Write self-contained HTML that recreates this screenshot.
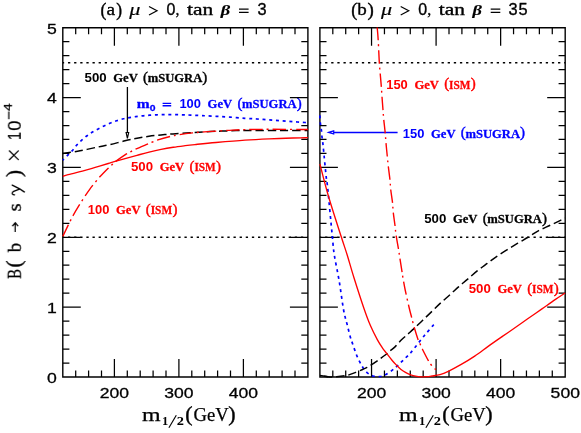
<!DOCTYPE html>
<html><head><meta charset="utf-8"><title>B(b to s gamma)</title>
<style>html,body{margin:0;padding:0;background:#fff}svg{display:block}.s{font-family:"Liberation Serif",serif}.n{font-family:"Liberation Sans",sans-serif}</style>
</head><body>
<svg width="581" height="433" viewBox="0 0 581 433">
<rect width="581" height="433" fill="#fff"/>
<g opacity="0.999">
<path d="M127.4 87V132.3" stroke="#000" stroke-width="1.3" fill="none"/>
<path d="M127.4 138.3L126.1 132.5H128.7Z" stroke="#000" stroke-width="1.15" fill="#fff" stroke-linejoin="miter"/>
<path d="M397.6 132.4H333.6" stroke="#00f" stroke-width="1.45" fill="none"/>
<path d="M328.6 132.4L333.7 130.9V133.9Z" stroke="#00f" stroke-width="1.2" fill="#fff" stroke-linejoin="miter"/>
<text class="n" x="84.55" y="81.95" font-size="12.7" font-weight="bold" fill="#000000" textLength="22.1" lengthAdjust="spacingAndGlyphs">500</text>
<text class="s" x="113.25" y="81.95" font-size="13.0" font-weight="bold" fill="#000000" stroke="#000000" stroke-width="0.3" textLength="24.5" lengthAdjust="spacingAndGlyphs">GeV</text>
<text class="s" x="143.05" y="81.55" font-size="15.2" fill="#000000" stroke="#000000" stroke-width="0.45" textLength="5" lengthAdjust="spacingAndGlyphs">(</text>
<text class="s" x="147.65" y="81.95" font-size="13.0" font-weight="bold" fill="#000000" stroke="#000000" stroke-width="0.3" textLength="54.6" lengthAdjust="spacingAndGlyphs">mSUGRA</text>
<text class="s" x="202.35" y="81.55" font-size="15.2" fill="#000000" stroke="#000000" stroke-width="0.45" textLength="5" lengthAdjust="spacingAndGlyphs">)</text>
<text class="n" x="179.4" y="108.4" font-size="12.7" font-weight="bold" fill="#0000ff" textLength="21.6" lengthAdjust="spacingAndGlyphs">100</text>
<text class="s" x="207.6" y="108.4" font-size="13.0" font-weight="bold" fill="#0000ff" stroke="#0000ff" stroke-width="0.3" textLength="24.5" lengthAdjust="spacingAndGlyphs">GeV</text>
<text class="s" x="237.4" y="108" font-size="15.2" fill="#0000ff" stroke="#0000ff" stroke-width="0.45" textLength="5" lengthAdjust="spacingAndGlyphs">(</text>
<text class="s" x="242" y="108.4" font-size="13.0" font-weight="bold" fill="#0000ff" stroke="#0000ff" stroke-width="0.3" textLength="54.6" lengthAdjust="spacingAndGlyphs">mSUGRA</text>
<text class="s" x="296.7" y="108" font-size="15.2" fill="#0000ff" stroke="#0000ff" stroke-width="0.45" textLength="5" lengthAdjust="spacingAndGlyphs">)</text>
<text class="s" x="136.8" y="108.4" font-size="13.0" font-weight="bold" fill="#0000ff" stroke="#0000ff" stroke-width="0.3" textLength="12.9" lengthAdjust="spacingAndGlyphs">m</text>
<text class="n" x="149.8" y="111.1" font-size="9.5" font-weight="bold" fill="#0000ff" stroke="#0000ff" stroke-width="0.3" textLength="5.8" lengthAdjust="spacingAndGlyphs">0</text>
<path d="M162.6 103.3H171.2M162.6 105.75H171.2" stroke="#00f" stroke-width="1.3" fill="none"/>
<text class="n" x="131" y="171.4" font-size="12.7" font-weight="bold" fill="#ff0000" textLength="22.1" lengthAdjust="spacingAndGlyphs">500</text>
<text class="s" x="159.7" y="171.4" font-size="13.0" font-weight="bold" fill="#ff0000" stroke="#ff0000" stroke-width="0.3" textLength="24.5" lengthAdjust="spacingAndGlyphs">GeV</text>
<text class="s" x="189.5" y="171" font-size="15.2" fill="#ff0000" stroke="#ff0000" stroke-width="0.45" textLength="5" lengthAdjust="spacingAndGlyphs">(</text>
<text class="s" x="194.4" y="171.4" font-size="13.0" font-weight="bold" fill="#ff0000" stroke="#ff0000" stroke-width="0.3" textLength="21.4" lengthAdjust="spacingAndGlyphs">ISM</text>
<text class="s" x="216.1" y="171" font-size="15.2" fill="#ff0000" stroke="#ff0000" stroke-width="0.45" textLength="5" lengthAdjust="spacingAndGlyphs">)</text>
<text class="n" x="87.8" y="214.3" font-size="12.7" font-weight="bold" fill="#ff0000" textLength="21.6" lengthAdjust="spacingAndGlyphs">100</text>
<text class="s" x="116" y="214.3" font-size="13.0" font-weight="bold" fill="#ff0000" stroke="#ff0000" stroke-width="0.3" textLength="24.5" lengthAdjust="spacingAndGlyphs">GeV</text>
<text class="s" x="145.8" y="213.9" font-size="15.2" fill="#ff0000" stroke="#ff0000" stroke-width="0.45" textLength="5" lengthAdjust="spacingAndGlyphs">(</text>
<text class="s" x="150.7" y="214.3" font-size="13.0" font-weight="bold" fill="#ff0000" stroke="#ff0000" stroke-width="0.3" textLength="21.4" lengthAdjust="spacingAndGlyphs">ISM</text>
<text class="s" x="172.4" y="213.9" font-size="15.2" fill="#ff0000" stroke="#ff0000" stroke-width="0.45" textLength="5" lengthAdjust="spacingAndGlyphs">)</text>
<text class="n" x="386.2" y="88.8" font-size="12.7" font-weight="bold" fill="#ff0000" textLength="21.6" lengthAdjust="spacingAndGlyphs">150</text>
<text class="s" x="414.4" y="88.8" font-size="13.0" font-weight="bold" fill="#ff0000" stroke="#ff0000" stroke-width="0.3" textLength="24.5" lengthAdjust="spacingAndGlyphs">GeV</text>
<text class="s" x="444.2" y="88.4" font-size="15.2" fill="#ff0000" stroke="#ff0000" stroke-width="0.45" textLength="5" lengthAdjust="spacingAndGlyphs">(</text>
<text class="s" x="449.1" y="88.8" font-size="13.0" font-weight="bold" fill="#ff0000" stroke="#ff0000" stroke-width="0.3" textLength="21.4" lengthAdjust="spacingAndGlyphs">ISM</text>
<text class="s" x="470.8" y="88.4" font-size="15.2" fill="#ff0000" stroke="#ff0000" stroke-width="0.45" textLength="5" lengthAdjust="spacingAndGlyphs">)</text>
<text class="n" x="402.8" y="137.7" font-size="12.7" font-weight="bold" fill="#0000ff" textLength="21.6" lengthAdjust="spacingAndGlyphs">150</text>
<text class="s" x="431" y="137.7" font-size="13.0" font-weight="bold" fill="#0000ff" stroke="#0000ff" stroke-width="0.3" textLength="24.5" lengthAdjust="spacingAndGlyphs">GeV</text>
<text class="s" x="460.8" y="137.3" font-size="15.2" fill="#0000ff" stroke="#0000ff" stroke-width="0.45" textLength="5" lengthAdjust="spacingAndGlyphs">(</text>
<text class="s" x="465.4" y="137.7" font-size="13.0" font-weight="bold" fill="#0000ff" stroke="#0000ff" stroke-width="0.3" textLength="54.6" lengthAdjust="spacingAndGlyphs">mSUGRA</text>
<text class="s" x="520.1" y="137.3" font-size="15.2" fill="#0000ff" stroke="#0000ff" stroke-width="0.45" textLength="5" lengthAdjust="spacingAndGlyphs">)</text>
<text class="n" x="424.2" y="223.2" font-size="12.7" font-weight="bold" fill="#000000" textLength="22.1" lengthAdjust="spacingAndGlyphs">500</text>
<text class="s" x="452.9" y="223.2" font-size="13.0" font-weight="bold" fill="#000000" stroke="#000000" stroke-width="0.3" textLength="24.5" lengthAdjust="spacingAndGlyphs">GeV</text>
<text class="s" x="482.7" y="222.8" font-size="15.2" fill="#000000" stroke="#000000" stroke-width="0.45" textLength="5" lengthAdjust="spacingAndGlyphs">(</text>
<text class="s" x="487.3" y="223.2" font-size="13.0" font-weight="bold" fill="#000000" stroke="#000000" stroke-width="0.3" textLength="54.6" lengthAdjust="spacingAndGlyphs">mSUGRA</text>
<text class="s" x="542" y="222.8" font-size="15.2" fill="#000000" stroke="#000000" stroke-width="0.45" textLength="5" lengthAdjust="spacingAndGlyphs">)</text>
<text class="n" x="468.7" y="292.9" font-size="12.7" font-weight="bold" fill="#ff0000" textLength="22.1" lengthAdjust="spacingAndGlyphs">500</text>
<text class="s" x="497.4" y="292.9" font-size="13.0" font-weight="bold" fill="#ff0000" stroke="#ff0000" stroke-width="0.3" textLength="24.5" lengthAdjust="spacingAndGlyphs">GeV</text>
<text class="s" x="527.2" y="292.5" font-size="15.2" fill="#ff0000" stroke="#ff0000" stroke-width="0.45" textLength="5" lengthAdjust="spacingAndGlyphs">(</text>
<text class="s" x="532.1" y="292.9" font-size="13.0" font-weight="bold" fill="#ff0000" stroke="#ff0000" stroke-width="0.3" textLength="21.4" lengthAdjust="spacingAndGlyphs">ISM</text>
<text class="s" x="553.8" y="292.5" font-size="15.2" fill="#ff0000" stroke="#ff0000" stroke-width="0.45" textLength="5" lengthAdjust="spacingAndGlyphs">)</text>
<path d="M62.8 27.7H307.9V377H62.8Z" fill="none" stroke="#000" stroke-width="1.4" stroke-linejoin="miter"/>
<path d="M75.7 377v-6.6M75.7 27.7v6.6M88.6 377v-6.6M88.6 27.7v6.6M101.5 377v-6.6M101.5 27.7v6.6M114.4 377v-18M114.4 27.7v18M127.3 377v-6.6M127.3 27.7v6.6M140.2 377v-6.6M140.2 27.7v6.6M153.1 377v-6.6M153.1 27.7v6.6M166 377v-6.6M166 27.7v6.6M178.9 377v-18M178.9 27.7v18M191.8 377v-6.6M191.8 27.7v6.6M204.7 377v-6.6M204.7 27.7v6.6M217.6 377v-6.6M217.6 27.7v6.6M230.5 377v-6.6M230.5 27.7v6.6M243.4 377v-18M243.4 27.7v18M256.3 377v-6.6M256.3 27.7v6.6M269.2 377v-6.6M269.2 27.7v6.6M282.1 377v-6.6M282.1 27.7v6.6M295 377v-6.6M295 27.7v6.6M62.8 363.03h6.6M307.9 363.03h-6.6M62.8 349.06h6.6M307.9 349.06h-6.6M62.8 335.08h6.6M307.9 335.08h-6.6M62.8 321.11h6.6M307.9 321.11h-6.6M62.8 307.14h18M307.9 307.14h-18M62.8 293.17h6.6M307.9 293.17h-6.6M62.8 279.2h6.6M307.9 279.2h-6.6M62.8 265.22h6.6M307.9 265.22h-6.6M62.8 251.25h6.6M307.9 251.25h-6.6M62.8 237.28h18M307.9 237.28h-18M62.8 223.31h6.6M307.9 223.31h-6.6M62.8 209.34h6.6M307.9 209.34h-6.6M62.8 195.36h6.6M307.9 195.36h-6.6M62.8 181.39h6.6M307.9 181.39h-6.6M62.8 167.42h18M307.9 167.42h-18M62.8 153.45h6.6M307.9 153.45h-6.6M62.8 139.48h6.6M307.9 139.48h-6.6M62.8 125.5h6.6M307.9 125.5h-6.6M62.8 111.53h6.6M307.9 111.53h-6.6M62.8 97.56h18M307.9 97.56h-18M62.8 83.59h6.6M307.9 83.59h-6.6M62.8 69.62h6.6M307.9 69.62h-6.6M62.8 55.64h6.6M307.9 55.64h-6.6M62.8 41.67h6.6M307.9 41.67h-6.6" fill="none" stroke="#000" stroke-width="1.25" stroke-linecap="butt"/>
<path d="M62.8 237.28H307.9" stroke="#000" stroke-width="1.5" stroke-dasharray="2.3 3.83" stroke-dashoffset="0.95" fill="none"/>
<path d="M62.8 62.63H307.9" stroke="#000" stroke-width="1.5" stroke-dasharray="2.3 3.83" stroke-dashoffset="0.95" fill="none"/>
<path d="M319.9 27.7H565.19V377H319.9Z" fill="none" stroke="#000" stroke-width="1.4" stroke-linejoin="miter"/>
<path d="M332.81 377v-6.6M332.81 27.7v6.6M345.72 377v-6.6M345.72 27.7v6.6M358.63 377v-6.6M358.63 27.7v6.6M371.54 377v-18M371.54 27.7v18M384.45 377v-6.6M384.45 27.7v6.6M397.36 377v-6.6M397.36 27.7v6.6M410.27 377v-6.6M410.27 27.7v6.6M423.18 377v-6.6M423.18 27.7v6.6M436.09 377v-18M436.09 27.7v18M449 377v-6.6M449 27.7v6.6M461.91 377v-6.6M461.91 27.7v6.6M474.82 377v-6.6M474.82 27.7v6.6M487.73 377v-6.6M487.73 27.7v6.6M500.64 377v-18M500.64 27.7v18M513.55 377v-6.6M513.55 27.7v6.6M526.46 377v-6.6M526.46 27.7v6.6M539.37 377v-6.6M539.37 27.7v6.6M552.28 377v-6.6M552.28 27.7v6.6M319.9 363.03h6.6M565.19 363.03h-6.6M319.9 349.06h6.6M565.19 349.06h-6.6M319.9 335.08h6.6M565.19 335.08h-6.6M319.9 321.11h6.6M565.19 321.11h-6.6M319.9 307.14h18M565.19 307.14h-18M319.9 293.17h6.6M565.19 293.17h-6.6M319.9 279.2h6.6M565.19 279.2h-6.6M319.9 265.22h6.6M565.19 265.22h-6.6M319.9 251.25h6.6M565.19 251.25h-6.6M319.9 237.28h18M565.19 237.28h-18M319.9 223.31h6.6M565.19 223.31h-6.6M319.9 209.34h6.6M565.19 209.34h-6.6M319.9 195.36h6.6M565.19 195.36h-6.6M319.9 181.39h6.6M565.19 181.39h-6.6M319.9 167.42h18M565.19 167.42h-18M319.9 153.45h6.6M565.19 153.45h-6.6M319.9 139.48h6.6M565.19 139.48h-6.6M319.9 125.5h6.6M565.19 125.5h-6.6M319.9 111.53h6.6M565.19 111.53h-6.6M319.9 97.56h18M565.19 97.56h-18M319.9 83.59h6.6M565.19 83.59h-6.6M319.9 69.62h6.6M565.19 69.62h-6.6M319.9 55.64h6.6M565.19 55.64h-6.6M319.9 41.67h6.6M565.19 41.67h-6.6" fill="none" stroke="#000" stroke-width="1.25" stroke-linecap="butt"/>
<path d="M319.9 237.28H565.19" stroke="#000" stroke-width="1.5" stroke-dasharray="2.3 3.83" stroke-dashoffset="0.95" fill="none"/>
<path d="M319.9 62.63H565.19" stroke="#000" stroke-width="1.5" stroke-dasharray="2.3 3.83" stroke-dashoffset="0.95" fill="none"/>
<g stroke-linecap="butt" stroke-linejoin="round">
<path d="M62.8 160.2C63.63 159.35 66.15 156.77 67.8 155.1C69.45 153.43 71.18 151.9 72.7 150.2C74.22 148.5 75.4 146.57 76.9 144.9C78.4 143.23 80 141.73 81.7 140.2C83.4 138.67 85.3 137.07 87.1 135.7C88.9 134.33 90.58 133.17 92.5 132C94.42 130.83 96.58 129.75 98.6 128.7C100.62 127.65 102.6 126.65 104.6 125.7C106.6 124.75 108.6 123.82 110.6 123C112.6 122.18 114.48 121.5 116.6 120.8C118.72 120.1 121.18 119.33 123.3 118.8C125.42 118.27 127.22 117.97 129.3 117.6C131.38 117.23 133.5 116.9 135.8 116.6C138.1 116.3 140.78 116.03 143.1 115.8C145.42 115.57 147.4 115.37 149.7 115.2C152 115.03 154.58 114.9 156.9 114.8C159.22 114.7 161.38 114.63 163.6 114.6C165.82 114.57 167.9 114.58 170.2 114.6C172.5 114.62 175.1 114.66 177.4 114.7C179.7 114.74 181.78 114.78 184 114.85C186.22 114.92 187.7 114.97 190.7 115.1C193.7 115.22 197.78 115.4 202 115.6C206.22 115.8 211.33 116.05 216 116.3C220.67 116.55 225.17 116.77 230 117.1C234.83 117.43 240.5 117.98 245 118.3C249.5 118.62 252.98 118.73 257 119C261.02 119.27 265.08 119.6 269.1 119.9C273.12 120.2 277.08 120.5 281.1 120.8C285.12 121.1 289.18 121.42 293.2 121.7C297.22 121.98 302.75 122.33 305.2 122.5C307.65 122.67 307.45 122.67 307.9 122.7" fill="none" stroke="#0000ff" stroke-width="1.7" stroke-dasharray="3 3.735" stroke-dashoffset="1.15"/>
<path d="M62.8 153.5C65.67 153.05 74.13 151.88 80 150.8C85.87 149.72 93 148.03 98 147C103 145.97 105.5 145.63 110 144.6C114.5 143.57 120.5 141.85 125 140.8C129.5 139.75 133 139.05 137 138.3C141 137.55 145 136.87 149 136.3C153 135.73 157 135.3 161 134.9C165 134.5 168.17 134.25 173 133.9C177.83 133.55 183.83 133.18 190 132.8C196.17 132.42 202.33 131.97 210 131.6C217.67 131.23 229.33 130.78 236 130.6C242.67 130.42 242.67 130.5 250 130.5C257.33 130.5 270.35 130.6 280 130.6C289.65 130.6 303.25 130.52 307.9 130.5" fill="none" stroke="#000000" stroke-width="1.5" stroke-dasharray="8.3 3.88" stroke-dashoffset="0.15"/>
<path d="M62.8 176.3C63.53 176.07 63.65 175.83 67.2 174.9C70.75 173.97 79.28 172 84.1 170.7C88.92 169.4 92.08 168.3 96.1 167.1C100.12 165.9 105.18 164.4 108.2 163.5C111.22 162.6 111.4 162.52 114.2 161.7C117 160.88 121.2 159.67 125 158.6C128.8 157.53 132.98 156.38 137 155.3C141.02 154.22 145.08 153.08 149.1 152.1C153.12 151.12 157.08 150.21 161.1 149.4C165.12 148.59 169.18 147.88 173.2 147.25C177.22 146.62 181.57 146.1 185.2 145.65C188.83 145.2 189.87 145.08 195 144.55C200.13 144.03 207.67 143.24 216 142.5C224.33 141.76 236.15 140.72 245 140.1C253.85 139.48 261.07 139.15 269.1 138.8C277.13 138.45 286.73 138.18 293.2 138C299.67 137.82 305.45 137.75 307.9 137.7" fill="none" stroke="#ff0000" stroke-width="1.35"/>
<path d="M62.8 236.4C64.38 233.17 69.27 222.68 72.3 217C75.33 211.32 78.1 206.92 81 202.3C83.9 197.68 86.82 193.25 89.7 189.3C92.58 185.35 96.32 181 98.3 178.6C100.28 176.2 99.95 176.62 101.6 174.9C103.25 173.18 106.5 169.97 108.2 168.3C109.9 166.63 110.7 165.95 111.8 164.9C112.9 163.85 112.6 163.67 114.8 162C117 160.33 122.4 156.58 125 154.9C127.6 153.22 128.7 152.83 130.4 151.9C132.1 150.97 132.18 150.67 135.2 149.3C138.22 147.93 145.62 144.92 148.5 143.7C151.38 142.48 151.1 142.58 152.5 142C153.9 141.42 153.95 141.12 156.9 140.2C159.85 139.28 166.48 137.42 170.2 136.5C173.92 135.58 175.48 135.3 179.2 134.7C182.92 134.1 188.35 133.37 192.5 132.9C196.65 132.43 198.15 132.32 204.1 131.9C210.05 131.48 221.38 130.78 228.2 130.4C235.02 130.02 238.03 129.78 245 129.6C251.97 129.42 259.52 129.32 270 129.3C280.48 129.28 301.58 129.47 307.9 129.5" fill="none" stroke="#ff0000" stroke-width="1.4" stroke-dasharray="13.4 3.9 2 4" stroke-dashoffset="0.5"/>
<path d="M319.85 115.4C319.94 116.73 320.14 120.95 320.4 123.4C320.66 125.85 321.13 127.83 321.4 130.1C321.67 132.37 321.75 134.73 322 137C322.25 139.27 322.65 141.58 322.9 143.7C323.15 145.82 322.93 144.02 323.5 149.7C324.07 155.38 325.6 171.4 326.3 177.8C327 184.2 326.7 178.35 327.7 188.1C328.7 197.85 331.2 225.15 332.3 236.3C333.4 247.45 333.17 247.63 334.3 255C335.43 262.37 337.55 271.33 339.1 280.5C340.65 289.67 342.28 302.77 343.6 310C344.92 317.23 345.88 319.4 347 323.9C348.12 328.4 349.43 333.88 350.3 337C351.17 340.12 351.48 340.5 352.2 342.6C352.92 344.7 353.78 347.32 354.6 349.6C355.42 351.88 356.22 354.2 357.1 356.3C357.98 358.4 358.92 360.3 359.9 362.2C360.88 364.1 361.77 365.93 363 367.7C364.23 369.47 365.65 371.42 367.3 372.8C368.95 374.18 370.83 375.38 372.9 376C374.97 376.62 377.65 376.68 379.7 376.5C381.75 376.32 383.15 375.92 385.2 374.9C387.25 373.88 390.05 371.85 392 370.4C393.95 368.95 395.28 367.65 396.9 366.2C398.52 364.75 400.08 363.25 401.7 361.7C403.32 360.15 405.03 358.47 406.6 356.9C408.17 355.33 408.3 355.67 411.1 352.3C413.9 348.93 420.55 340.23 423.4 336.7C426.25 333.17 426.65 332.9 428.2 331.1C429.75 329.3 431.75 327 432.7 325.9C433.65 324.8 433.7 324.73 433.9 324.5" fill="none" stroke="#0000ff" stroke-width="1.7" stroke-dasharray="3 3.735"/>
<path d="M320 375.6C321.28 375.78 325.7 376.48 327.7 376.7C329.7 376.92 330.5 376.95 332 376.95C333.5 376.95 334.53 376.89 336.7 376.7C338.87 376.51 343.1 376.05 345 375.8C346.9 375.55 346.3 375.77 348.1 375.2C349.9 374.63 353.38 373.35 355.8 372.4C358.22 371.45 360.72 370.33 362.6 369.5C364.48 368.67 365.6 368.2 367.1 367.4C368.6 366.6 369.92 365.8 371.6 364.7C373.28 363.6 375.7 361.85 377.2 360.8C378.7 359.75 378.93 359.62 380.6 358.4C382.27 357.18 385.58 354.77 387.2 353.5C388.82 352.23 389 351.9 390.3 350.8C391.6 349.7 393.13 348.73 395 346.9C396.87 345.07 399.32 341.97 401.5 339.8C403.68 337.63 405.95 335.83 408.1 333.9C410.25 331.97 411.92 330.52 414.4 328.2C416.88 325.88 420.07 322.82 423 320C425.93 317.18 429.05 314.15 432 311.3C434.95 308.45 437.68 305.68 440.7 302.9C443.72 300.12 447.08 297.32 450.1 294.6C453.12 291.88 455.92 289.13 458.8 286.6C461.68 284.07 464.28 282.05 467.4 279.4C470.52 276.75 474.2 273.37 477.5 270.7C480.8 268.03 483.97 265.8 487.2 263.4C490.43 261 493.53 258.6 496.9 256.3C500.27 254 503.92 251.78 507.4 249.6C510.88 247.42 514.28 245.3 517.8 243.2C521.32 241.1 525.08 239.07 528.5 237C531.92 234.93 534.65 232.77 538.3 230.8C541.95 228.83 546.62 226.98 550.4 225.2C554.18 223.42 558.55 221.25 561 220.1C563.45 218.95 564.42 218.6 565.1 218.3" fill="none" stroke="#000000" stroke-width="1.5" stroke-dasharray="8.3 3.95" stroke-dashoffset="8.22"/>
<path d="M320 375.4L328 376.8" stroke="#000" stroke-width="1.4" fill="none"/>
<path d="M319.9 164C321.3 169.28 324.77 183.65 328.3 195.7C331.83 207.75 337.95 226.42 341.1 236.3C344.25 246.18 345.07 248.13 347.2 255C349.33 261.87 351.13 268.67 353.9 277.5C356.67 286.33 361.05 299.98 363.8 308C366.55 316.02 368.15 320.33 370.4 325.6C372.65 330.87 375.25 335.82 377.3 339.6C379.35 343.38 381.17 346.03 382.7 348.3C384.23 350.57 384.95 351.22 386.5 353.2C388.05 355.18 390.38 358.25 392 360.2C393.62 362.15 394.7 363.35 396.2 364.9C397.7 366.45 399.38 368.2 401 369.5C402.62 370.8 404.28 371.8 405.9 372.7C407.52 373.6 409.08 374.32 410.7 374.9C412.32 375.48 413.87 375.88 415.6 376.2C417.33 376.52 419.25 376.72 421.1 376.8C422.95 376.88 424.88 376.83 426.7 376.7C428.52 376.57 429.78 376.35 432 376C434.22 375.65 437.28 375.38 440 374.6C442.72 373.82 444.83 372.95 448.3 371.3C451.77 369.65 456.4 367.23 460.8 364.7C465.2 362.17 470.08 359.2 474.7 356.1C479.32 353 483.88 349.38 488.5 346.1C493.12 342.82 498.17 339.33 502.4 336.4C506.63 333.47 509.68 331.43 513.9 328.5C518.12 325.57 523.08 322.03 527.7 318.8C532.32 315.57 536.97 312.33 541.6 309.1C546.23 305.87 551.58 302.08 555.5 299.4C559.42 296.72 563.5 294.07 565.1 293" fill="none" stroke="#ff0000" stroke-width="1.35"/>
<path d="M377.2 27.5C377.37 29.58 377.85 34.17 378.2 40C378.55 45.83 378.97 56.92 379.3 62.5C379.63 68.08 379.87 69.52 380.2 73.5C380.53 77.48 381 82.52 381.3 86.4C381.6 90.28 381.72 92.87 382 96.8C382.28 100.73 382.72 106.3 383 110C383.28 113.7 383.33 115.18 383.7 119C384.07 122.82 384.82 128.88 385.2 132.9C385.58 136.92 385.65 139.17 386 143.1C386.35 147.03 386.92 152.63 387.3 156.5C387.68 160.37 387.85 162.35 388.3 166.3C388.75 170.25 389.6 176.35 390 180.2C390.4 184.05 390.28 185.7 390.7 189.4C391.12 193.1 392.08 198.65 392.5 202.4C392.92 206.15 392.78 208.05 393.2 211.9C393.62 215.75 394.52 221.6 395 225.5C395.48 229.4 395.52 231.35 396.1 235.3C396.68 239.25 397.87 245.35 398.5 249.2C399.13 253.05 399.32 254.65 399.9 258.4C400.48 262.15 401.53 268.7 402 271.7C402.47 274.7 402.17 273.35 402.7 276.4C403.23 279.45 404.13 284.82 405.2 290C406.27 295.18 408.03 302.95 409.1 307.5C410.17 312.05 410.75 314 411.6 317.3C412.45 320.6 413.1 323.52 414.2 327.3C415.3 331.08 417.18 337.13 418.2 340C419.22 342.87 419.62 343 420.3 344.5C420.98 346 420.98 346.35 422.3 349C423.62 351.65 426.73 357.77 428.2 360.4C429.67 363.03 429.98 363.4 431.1 364.8C432.22 366.2 434.12 367.97 434.9 368.8C435.68 369.63 435.65 369.63 435.8 369.8" fill="none" stroke="#ff0000" stroke-width="1.4" stroke-dasharray="13.4 3.9 2 4" stroke-dashoffset="0.5"/>
</g>
<text class="n" x="56.9" y="382.8" font-size="15.5" stroke="#000" stroke-width="0.3" text-anchor="end" textLength="9.8" lengthAdjust="spacingAndGlyphs">0</text>
<text class="n" x="56.9" y="312.94" font-size="15.5" stroke="#000" stroke-width="0.3" text-anchor="end" textLength="9.8" lengthAdjust="spacingAndGlyphs">1</text>
<text class="n" x="56.9" y="243.08" font-size="15.5" stroke="#000" stroke-width="0.3" text-anchor="end" textLength="9.8" lengthAdjust="spacingAndGlyphs">2</text>
<text class="n" x="56.9" y="173.22" font-size="15.5" stroke="#000" stroke-width="0.3" text-anchor="end" textLength="9.8" lengthAdjust="spacingAndGlyphs">3</text>
<text class="n" x="56.9" y="103.36" font-size="15.5" stroke="#000" stroke-width="0.3" text-anchor="end" textLength="9.8" lengthAdjust="spacingAndGlyphs">4</text>
<text class="n" x="56.9" y="33.5" font-size="15.5" stroke="#000" stroke-width="0.3" text-anchor="end" textLength="9.8" lengthAdjust="spacingAndGlyphs">5</text>
<text class="n" x="114.5" y="397.7" font-size="15.5" stroke="#000" stroke-width="0.3" text-anchor="middle" textLength="29.3" lengthAdjust="spacingAndGlyphs">200</text>
<text class="n" x="179" y="397.7" font-size="15.5" stroke="#000" stroke-width="0.3" text-anchor="middle" textLength="29.3" lengthAdjust="spacingAndGlyphs">300</text>
<text class="n" x="243.5" y="397.7" font-size="15.5" stroke="#000" stroke-width="0.3" text-anchor="middle" textLength="29.3" lengthAdjust="spacingAndGlyphs">400</text>
<text class="n" x="371.64" y="397.7" font-size="15.5" stroke="#000" stroke-width="0.3" text-anchor="middle" textLength="29.3" lengthAdjust="spacingAndGlyphs">200</text>
<text class="n" x="436.19" y="397.7" font-size="15.5" stroke="#000" stroke-width="0.3" text-anchor="middle" textLength="29.3" lengthAdjust="spacingAndGlyphs">300</text>
<text class="n" x="500.74" y="397.7" font-size="15.5" stroke="#000" stroke-width="0.3" text-anchor="middle" textLength="29.3" lengthAdjust="spacingAndGlyphs">400</text>
<text class="n" x="565.29" y="397.7" font-size="15.5" stroke="#000" stroke-width="0.3" text-anchor="middle" textLength="29.3" lengthAdjust="spacingAndGlyphs">500</text>
<text class="s" x="100.4" y="15.5" font-size="18.5" stroke="#000" stroke-width="0.4" textLength="5.9" lengthAdjust="spacingAndGlyphs">(</text>
<text class="s" x="106.6" y="15.2" font-size="16.3" stroke="#000" stroke-width="0.35" textLength="8.6" lengthAdjust="spacingAndGlyphs">a</text>
<text class="s" x="116.2" y="15.5" font-size="18.5" stroke="#000" stroke-width="0.4" textLength="5.8" lengthAdjust="spacingAndGlyphs">)</text>
<text class="s" x="129.2" y="15.2" font-size="16.3" font-style="italic" stroke="#000" stroke-width="0.15" textLength="11.2" lengthAdjust="spacingAndGlyphs">&#956;</text>
<path d="M149 6.5L157 10.75L149 15" stroke="#000" stroke-width="1.25" fill="none" stroke-linejoin="miter"/>
<text class="n" x="166.45" y="15.45" font-size="15.8" stroke="#000" stroke-width="0.35" textLength="8.9" lengthAdjust="spacingAndGlyphs">0</text>
<text class="s" x="175.6" y="15.3" font-size="17" stroke="#000" stroke-width="0.3" textLength="4" lengthAdjust="spacingAndGlyphs">,</text>
<text class="s" x="187.1" y="15.2" font-size="16.3" stroke="#000" stroke-width="0.35" textLength="26.2" lengthAdjust="spacingAndGlyphs">tan</text>
<text class="s" x="220.7" y="15.3" font-size="15.4" font-weight="bold" font-style="italic" stroke="#000" stroke-width="0.15" textLength="9.4" lengthAdjust="spacingAndGlyphs">&#946;</text>
<path d="M239 9H248.6M239 12.4H248.6" stroke="#000" stroke-width="1.25" fill="none"/>
<text class="n" x="257.45" y="15.45" font-size="15.8" stroke="#000" stroke-width="0.35" textLength="9.1" lengthAdjust="spacingAndGlyphs">3</text>
<text class="s" x="351.2" y="15.5" font-size="18.5" stroke="#000" stroke-width="0.4" textLength="6" lengthAdjust="spacingAndGlyphs">(</text>
<text class="s" x="357.2" y="15.2" font-size="16.3" stroke="#000" stroke-width="0.35" textLength="9.5" lengthAdjust="spacingAndGlyphs">b</text>
<text class="s" x="367.6" y="15.5" font-size="18.5" stroke="#000" stroke-width="0.4" textLength="6.3" lengthAdjust="spacingAndGlyphs">)</text>
<text class="s" x="380.9" y="15.2" font-size="16.3" font-style="italic" stroke="#000" stroke-width="0.15" textLength="11.2" lengthAdjust="spacingAndGlyphs">&#956;</text>
<path d="M400.7 6.5L408.7 10.75L400.7 15" stroke="#000" stroke-width="1.25" fill="none" stroke-linejoin="miter"/>
<text class="n" x="418.15" y="15.45" font-size="15.8" stroke="#000" stroke-width="0.35" textLength="8.9" lengthAdjust="spacingAndGlyphs">0</text>
<text class="s" x="427.3" y="15.3" font-size="17" stroke="#000" stroke-width="0.3" textLength="4" lengthAdjust="spacingAndGlyphs">,</text>
<text class="s" x="438.8" y="15.2" font-size="16.3" stroke="#000" stroke-width="0.35" textLength="26.2" lengthAdjust="spacingAndGlyphs">tan</text>
<text class="s" x="472.4" y="15.3" font-size="15.4" font-weight="bold" font-style="italic" stroke="#000" stroke-width="0.15" textLength="9.4" lengthAdjust="spacingAndGlyphs">&#946;</text>
<path d="M490.7 9H500.3M490.7 12.4H500.3" stroke="#000" stroke-width="1.25" fill="none"/>
<text class="n" x="508.45" y="15.45" font-size="15.8" stroke="#000" stroke-width="0.35" textLength="9.1" lengthAdjust="spacingAndGlyphs">3</text>
<text class="n" x="518.45" y="15.45" font-size="15.8" stroke="#000" stroke-width="0.35" textLength="9.1" lengthAdjust="spacingAndGlyphs">5</text>
<text class="s" x="141.9" y="421.1" font-size="19.5" stroke="#000" stroke-width="0.25" textLength="18.6" lengthAdjust="spacingAndGlyphs">m</text>
<text class="s" x="161.9" y="425.3" font-size="11.6" font-weight="bold" textLength="6.3" lengthAdjust="spacingAndGlyphs">1</text>
<path d="M168.9 427.7L176.3 415.2" stroke="#000" stroke-width="1.15" fill="none"/>
<text class="s" x="176.8" y="425.3" font-size="11.6" font-weight="bold" textLength="7.2" lengthAdjust="spacingAndGlyphs">2</text>
<text class="s" x="185.2" y="420.9" font-size="21.4" stroke="#000" stroke-width="0.4" textLength="7.3" lengthAdjust="spacingAndGlyphs">(</text>
<text class="s" x="193.6" y="421.1" font-size="19.5" stroke="#000" stroke-width="0.25" textLength="35.2" lengthAdjust="spacingAndGlyphs">GeV</text>
<text class="s" x="228.3" y="420.9" font-size="21.4" stroke="#000" stroke-width="0.4" textLength="7.3" lengthAdjust="spacingAndGlyphs">)</text>
<text class="s" x="398.9" y="421.1" font-size="19.5" stroke="#000" stroke-width="0.25" textLength="18.6" lengthAdjust="spacingAndGlyphs">m</text>
<text class="s" x="418.9" y="425.3" font-size="11.6" font-weight="bold" textLength="6.3" lengthAdjust="spacingAndGlyphs">1</text>
<path d="M425.9 427.7L433.3 415.2" stroke="#000" stroke-width="1.15" fill="none"/>
<text class="s" x="433.8" y="425.3" font-size="11.6" font-weight="bold" textLength="7.2" lengthAdjust="spacingAndGlyphs">2</text>
<text class="s" x="442.2" y="420.9" font-size="21.4" stroke="#000" stroke-width="0.4" textLength="7.3" lengthAdjust="spacingAndGlyphs">(</text>
<text class="s" x="450.6" y="421.1" font-size="19.5" stroke="#000" stroke-width="0.25" textLength="35.2" lengthAdjust="spacingAndGlyphs">GeV</text>
<text class="s" x="485.3" y="420.9" font-size="21.4" stroke="#000" stroke-width="0.4" textLength="7.3" lengthAdjust="spacingAndGlyphs">)</text>
<g transform="translate(20.8 0) rotate(-90)">
<text class="s" x="-278.8" y="0" font-size="19.1" stroke="#000" stroke-width="0.3" textLength="9.7" lengthAdjust="spacingAndGlyphs">B</text>
<text class="s" x="-267.6" y="-0.3" font-size="20" stroke="#000" stroke-width="0.4" textLength="7" lengthAdjust="spacingAndGlyphs">(</text>
<text class="s" x="-252.3" y="0" font-size="19.1" stroke="#000" stroke-width="0.3" textLength="9.4" lengthAdjust="spacingAndGlyphs">b</text>
<path d="M-232 -5.6H-222.8M-226.2 -8.5L-222.7 -5.6L-226.2 -2.7" stroke="#000" stroke-width="1.25" fill="none" stroke-linejoin="miter"/>
<text class="s" x="-211.6" y="0" font-size="19.1" stroke="#000" stroke-width="0.3" textLength="8.2" lengthAdjust="spacingAndGlyphs">s</text>
<path d="M-194.9 -6.4C-194.8 -8.6 -192.6 -9.6 -191.5 -7.4L-189 -0.9M-185.1 -8.6L-189 -0.9L-192 3.5" stroke="#000" stroke-width="1.35" fill="none" stroke-linejoin="round" stroke-linecap="round"/>
<text class="s" x="-176.9" y="-0.3" font-size="20" stroke="#000" stroke-width="0.4" textLength="7" lengthAdjust="spacingAndGlyphs">)</text>
<path d="M-160 -2.1L-150.5 -11.8M-160 -11.8L-150.5 -2.1" stroke="#000" stroke-width="1.25" fill="none"/>
<text class="n" x="-140" y="0" font-size="17.5" stroke="#000" stroke-width="0.2" textLength="8" lengthAdjust="spacingAndGlyphs">1</text>
<text class="n" x="-130.8" y="0" font-size="17.5" stroke="#000" stroke-width="0.2" textLength="10.2" lengthAdjust="spacingAndGlyphs">0</text>
<path d="M-119.2 -12H-111.5" stroke="#000" stroke-width="1.25" fill="none"/>
<text class="n" x="-111.1" y="-8.9" font-size="11.6" stroke="#000" stroke-width="0.25" textLength="7.7" lengthAdjust="spacingAndGlyphs">4</text>
</g>
</g>
</svg>
</body></html>
